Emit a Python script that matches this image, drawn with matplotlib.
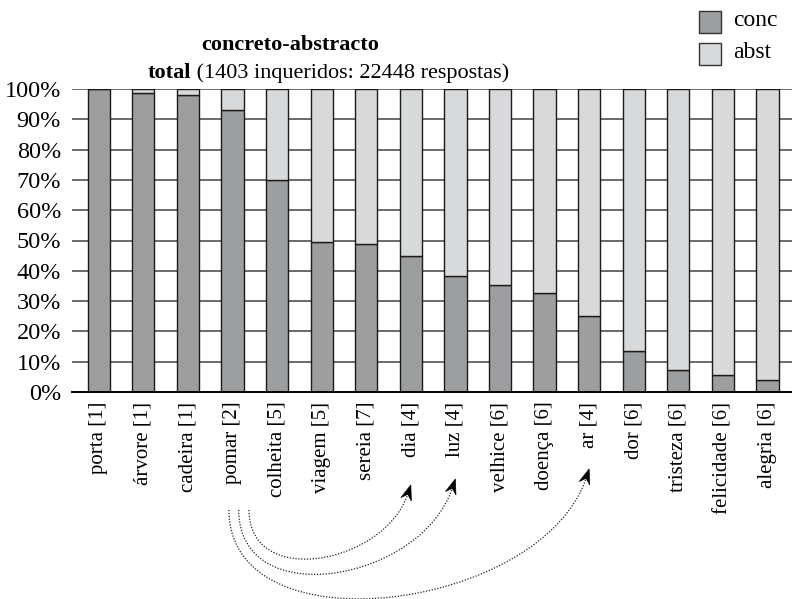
import matplotlib
matplotlib.use('Agg')
import matplotlib.pyplot as plt
from matplotlib.path import Path
from matplotlib.patches import PathPatch, Polygon, Rectangle
import numpy as np

plt.rcParams['font.family'] = ['Liberation Serif', 'DejaVu Serif']

words = ['porta', 'árvore', 'cadeira', 'pomar', 'colheita', 'viagem', 'sereia', 'dia',
         'luz', 'velhice', 'doença', 'ar', 'dor', 'tristeza', 'felicidade', 'alegria']
groups = [1, 1, 1, 2, 5, 5, 7, 4, 4, 6, 6, 4, 6, 6, 6, 6]
conc = [100.0, 98.7, 98.0, 93.2, 70.1, 49.6, 48.9, 45.0, 38.3, 35.3, 32.7, 25.2, 13.6, 7.1, 5.6, 4.0]
abst = [100 - c for c in conc]
links = [('pomar', 'ar'), ('pomar', 'luz'), ('pomar', 'dia')]

c_conc = '#9d9ea0'
c_abst = '#d8d9db'

W, H = 792, 599


def pix(px, py):
    # pixel position (origin top left) -> figure fraction
    return (px / W, 1 - py / H)


fig = plt.figure(figsize=(W / 100, H / 100), dpi=100)
ax = fig.add_axes([72 / W, 1 - 392 / H, 720 / W, 303 / H])

x = list(range(len(words)))
ax.bar(x, conc, width=0.5, color=c_conc, edgecolor='#1a1a1a', linewidth=1, zorder=3)
ax.bar(x, abst, width=0.5, bottom=conc, color=c_abst, edgecolor='#1a1a1a', linewidth=1, zorder=3)

ax.set_xlim(-0.6, 15.55)
ax.set_ylim(0, 100)
ax.set_yticks(range(0, 101, 10))
ax.set_yticklabels([f'{v}%' for v in range(0, 101, 10)], fontsize=17.5)
ax.set_xticks(x)
ax.set_xticklabels([f'{w} [{g}]' for w, g in zip(words, groups)], rotation=90, fontsize=15)
ax.tick_params(length=0, axis='y', pad=8)
ax.tick_params(length=0, axis='x', pad=7)
ax.yaxis.grid(True, color='#6a6a6a', linewidth=1.4, zorder=0)
for s in ['left', 'right', 'top']:
    ax.spines[s].set_visible(False)
ax.spines['bottom'].set_linewidth(1.4)
ax.spines['bottom'].set_zorder(4)

# title
fig.text(*pix(290, 45), 'concreto-abstracto', ha='center', va='center',
         fontsize=16, fontweight='bold')
t2 = fig.text(*pix(148, 73), 'total', ha='left', va='center', fontsize=16, fontweight='bold')
ax.annotate(' (1403 inqueridos: 22448 respostas)', xy=(1, 0), xycoords=t2, va='bottom',
            ha='left', fontsize=16)

# legend
for i, (lab, col) in enumerate([('conc', c_conc), ('abst', c_abst)]):
    yc = 22 + 32 * i
    fig.patches.append(Rectangle(pix(699, yc + 11), 22 / W, 22 / H, transform=fig.transFigure,
                                 facecolor=col, edgecolor='#333333', linewidth=1))
    fig.text(*pix(733, yc - 1), lab, ha='left', va='center', fontsize=17)

# dotted arrows from pomar to dia / luz / ar
to_fig = ax.transData + fig.transFigure.inverted()
offsets = [-0.08, 0.14, 0.37]
tips_y = [469, 479, 485]
bottoms = [596, 572, 557]
for (a, b), off, ey, yb in zip(links, offsets, tips_y, bottoms):
    xa = to_fig.transform((words.index(a) + off, 0))[0] * W
    xb = to_fig.transform((words.index(b), 0))[0] * W
    y0 = 510
    d = (yb - (y0 + ey) / 2) / 0.75
    p0 = np.array([xa, y0])
    p1 = np.array([xa, y0 + d])
    p2 = np.array([xb - 0.33 * d, ey + d])
    p3 = np.array([xb, ey])
    u = (p3 - p2) / np.linalg.norm(p3 - p2)
    n = np.array([-u[1], u[0]])
    hl, hw = 15, 5.5
    end = p3 - u * hl * 0.6
    verts = [pix(*p) for p in [p0, p1, p2, end]]
    path = Path(verts, [Path.MOVETO, Path.CURVE4, Path.CURVE4, Path.CURVE4])
    fig.patches.append(PathPatch(path, fill=False, transform=fig.transFigure,
                                 linestyle=(0, (1, 1.3)), linewidth=0.9, edgecolor='#222222'))
    head = [p3, p3 - u * hl + n * hw, p3 - u * hl * 0.65, p3 - u * hl - n * hw]
    fig.patches.append(Polygon([pix(*p) for p in head], closed=True, transform=fig.transFigure,
                               facecolor='black', edgecolor='black', linewidth=0.5))

fig.savefig('out.png', dpi=100)
